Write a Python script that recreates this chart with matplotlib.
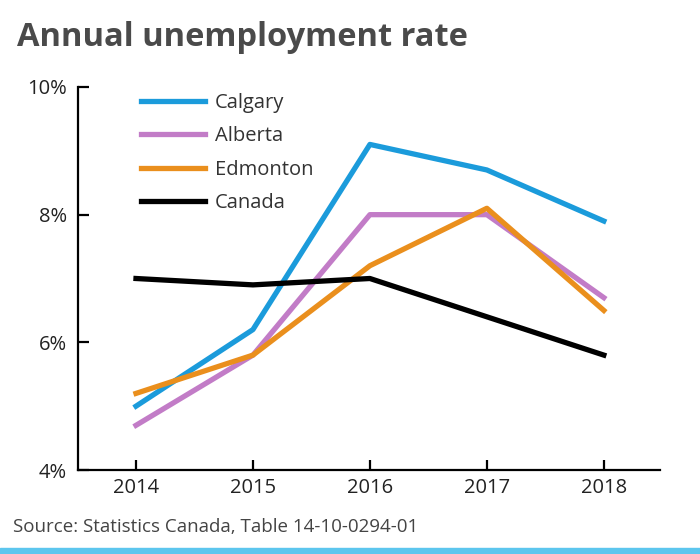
import matplotlib
matplotlib.use('Agg')
import matplotlib.pyplot as plt

plt.rcParams['font.family'] = ['Open Sans', 'DejaVu Sans']

years = [2014, 2015, 2016, 2017, 2018]
calgary = [5.0, 6.2, 9.1, 8.7, 7.9]
alberta = [4.7, 5.8, 8.0, 8.0, 6.7]
edmonton = [5.2, 5.8, 7.2, 8.1, 6.5]
canada = [7.0, 6.9, 7.0, 6.4, 5.8]
yticks = [4, 6, 8, 10]

fig = plt.figure(figsize=(7, 5.54), dpi=100)
ax = fig.add_axes([0.1114, 0.1516, 0.8314, 0.6914])

lw = 3.8
ax.plot(years, calgary, color='#1b9bdb', lw=lw, label='Calgary')
ax.plot(years, alberta, color='#c27cc7', lw=lw, label='Alberta')
ax.plot(years, edmonton, color='#ea8f1d', lw=lw, label='Edmonton')
ax.plot(years, canada, color='black', lw=lw, label='Canada')

ax.set_xlim(2013.504, 2018.48)
ax.set_ylim(4, 10)
ax.set_xticks(years)
ax.set_yticks(yticks)
ax.set_yticklabels([str(v) + '%' for v in yticks])

for s in ['top', 'right']:
    ax.spines[s].set_visible(False)
for s in ['left', 'bottom']:
    ax.spines[s].set_linewidth(1.6)
ax.tick_params(axis='both', direction='in', width=1.6, labelsize=14.5,
               labelcolor='#222222')
ax.tick_params(axis='x', length=7, pad=6)
ax.tick_params(axis='y', length=8, pad=8)

leg = ax.legend(loc='upper left', bbox_to_anchor=(141 / 700, 1 - 93 / 554),
                bbox_transform=fig.transFigure, frameon=False, fontsize=14.5,
                handlelength=3.2, handletextpad=0.45, labelspacing=0.66,
                borderpad=0, borderaxespad=0)
for t in leg.get_texts():
    t.set_color('#333333')

fig.text(17 / 700, 1 - 38 / 554, 'Annual unemployment rate', fontsize=23.5,
         fontweight='bold', color='#4a4a4a', va='center', ha='left')
fig.text(13 / 700, 1 - 527 / 554, 'Source: Statistics Canada, Table 14-10-0294-01',
         fontsize=13.5, color='#444444', va='center', ha='left')

fig.patches.append(plt.Rectangle((0, 0), 1, 6 / 554, transform=fig.transFigure,
                                 color='#5cc6ee', zorder=0))

fig.savefig('out.png', dpi=100)
